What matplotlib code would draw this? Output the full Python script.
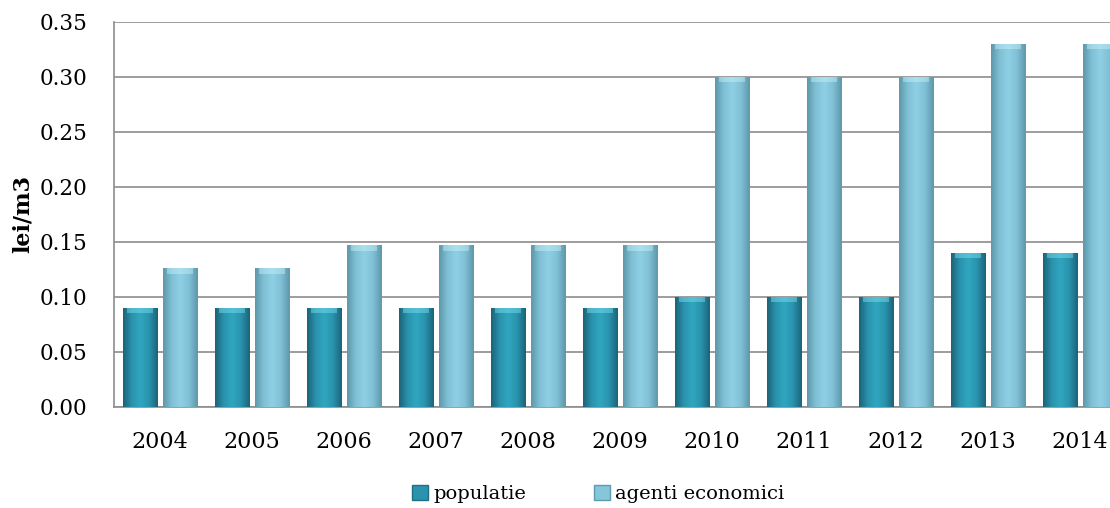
"""
plot.py
-------
Tarife lei/m3 pe ani: populatie vs agenti economici.
"""

import numpy as np
import matplotlib
matplotlib.use("Agg")
import matplotlib.pyplot as plt
from matplotlib.patches import Patch
from matplotlib.colors import LinearSegmentedColormap

YEARS = ["2004", "2005", "2006", "2007", "2008", "2009",
         "2010", "2011", "2012", "2013", "2014"]
POPULATIE = [0.09, 0.09, 0.09, 0.09, 0.09, 0.09, 0.10, 0.10, 0.10, 0.14, 0.14]
AGENTI = [0.126, 0.126, 0.147, 0.147, 0.147, 0.147, 0.30, 0.30, 0.30, 0.33, 0.33]
Y_TICKS = [0.00, 0.05, 0.10, 0.15, 0.20, 0.25, 0.30, 0.35]

COLOR_POP = "#2b93ad"
COLOR_AG = "#86c6db"

# edge -> centre -> edge shading, a rough stand-in for the bevelled Excel bars
CMAP_POP = LinearSegmentedColormap.from_list(
    "pop", ["#1c6479", "#2a93ad", "#30a6c0", "#2a93ad", "#1c6479"])
CMAP_AG = LinearSegmentedColormap.from_list(
    "ag", ["#5e98ab", "#80c0d6", "#8fd0e5", "#80c0d6", "#5e98ab"])

plt.rcParams["font.family"] = ["DejaVu Serif"]

fig = plt.figure(figsize=(11.10, 5.08), dpi=100)
ax = fig.add_axes([0.1027, 0.199, 0.9117, 0.758])

x = np.arange(len(YEARS))
w = 0.37
gap = 0.035

bars_pop = ax.bar(x - w / 2 - gap, POPULATIE, width=w, color=COLOR_POP,
                  edgecolor="#1f6f85", linewidth=0.6, zorder=3)
bars_ag = ax.bar(x + w / 2 + gap, AGENTI, width=w, color=COLOR_AG,
                 edgecolor="#5d9cb0", linewidth=0.6, zorder=3)

ax.set_xlim(-0.5, len(YEARS) - 0.5)
ax.set_ylim(0, 0.35)

grad = np.linspace(0, 1, 64).reshape(1, -1)
for bars, cmap, top in [(bars_pop, CMAP_POP, "#7fe3f2"), (bars_ag, CMAP_AG, "#c8f2fa")]:
    for b in bars:
        x0, y0 = b.get_x(), b.get_y()
        bw, bh = b.get_width(), b.get_height()
        im = ax.imshow(grad, cmap=cmap, aspect="auto", zorder=3.5,
                       extent=[x0, x0 + bw, y0, y0 + bh], interpolation="bicubic")
        im.set_clip_path(b)
        # light cap at the top of each bar
        ax.fill_between([x0 + bw * 0.12, x0 + bw * 0.88], y0 + bh - 0.005, y0 + bh,
                        color=top, alpha=0.45, linewidth=0, zorder=3.6)

ax.set_xlim(-0.5, len(YEARS) - 0.5)
ax.set_ylim(0, 0.35)
ax.set_yticks(Y_TICKS)
ax.set_yticklabels([f"{v:.2f}" for v in Y_TICKS], fontsize=15.5)
ax.set_xticks(x)
ax.set_xticklabels(YEARS, fontsize=16)
ax.tick_params(axis="y", length=0, pad=19)
ax.tick_params(axis="x", length=0, pad=17)

ax.grid(axis="y", color="#8c8c8c", linewidth=1.2, zorder=0)
ax.set_axisbelow(True)
for side in ["top", "right"]:
    ax.spines[side].set_visible(False)
for side in ["left", "bottom"]:
    ax.spines[side].set_color("#8c8c8c")
    ax.spines[side].set_linewidth(1.2)

ax.set_ylabel("lei/m3", fontsize=16, fontweight="bold")
ax.yaxis.set_label_coords(-0.079, 0.5)

handles = [Patch(facecolor=COLOR_POP, edgecolor="#1f6f85", label="populatie"),
           Patch(facecolor=COLOR_AG, edgecolor="#5d9cb0", label="agenti economici")]
fig.legend(handles=handles, loc="center", bbox_to_anchor=(0.539, 0.028), ncol=2,
           frameon=False, fontsize=14, handlelength=0.83, handleheight=0.83,
           handletextpad=0.26, columnspacing=3.5)

fig.savefig("out.png", dpi=100)
